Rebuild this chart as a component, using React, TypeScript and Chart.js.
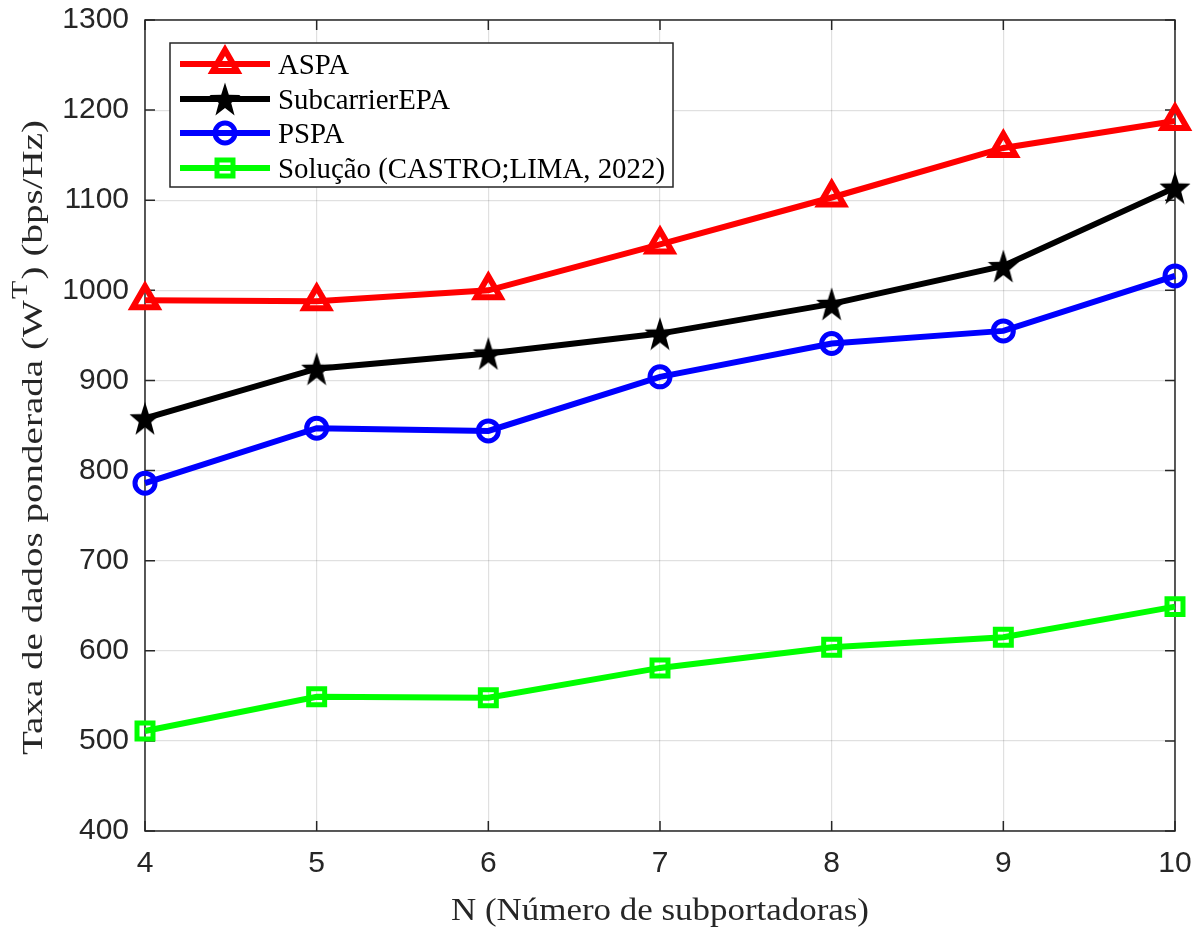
import React, { useEffect, useRef } from "react";
import { Chart, registerables } from "chart.js";

Chart.register(...registerables);

const nValues = [4, 5, 6, 7, 8, 9, 10];
const aspa = [989, 988, 1000, 1051, 1103, 1158, 1188];
const subcarrierEPA = [858, 913, 930, 952, 985, 1027, 1114];
const pspa = [786, 847, 844, 904, 941, 955, 1016];
const solucao = [511, 549, 548, 581, 604, 615, 649];
const yTicks = [400, 500, 600, 700, 800, 900, 1000, 1100, 1200, 1300];
const seriesLabels = ["ASPA", "SubcarrierEPA", "PSPA", "Solução (CASTRO;LIMA, 2022)"];
const xTitle = "N (Número de subportadoras)";

const SANS = "'Liberation Sans', Arial, Helvetica, sans-serif";
const SERIF = "'Liberation Serif', 'Times New Roman', serif";

function makeStar(w: number, h: number, color: string): HTMLCanvasElement {
  const c = document.createElement("canvas");
  c.width = w;
  c.height = h;
  const ctx = c.getContext("2d")!;
  const R = 1, r = 0.4;
  const sx = (w / 2 - 0.5) / 0.951, sy = (h - 1) / 1.809;
  const cx = w / 2, cy = 0.5 + sy;
  ctx.beginPath();
  for (let i = 0; i < 10; i++) {
    const rad = i % 2 === 0 ? R : r;
    const a = -Math.PI / 2 + (i * Math.PI) / 5;
    const px = cx + rad * Math.cos(a) * sx, py = cy + rad * Math.sin(a) * sy;
    if (i === 0) ctx.moveTo(px, py); else ctx.lineTo(px, py);
  }
  ctx.closePath();
  ctx.fillStyle = color;
  ctx.fill();
  return c;
}

function drawMarker(ctx: CanvasRenderingContext2D, style: any, x: number, y: number, r: number) {
  if (typeof style !== "string") {
    ctx.drawImage(style, x - style.width / 2, y - style.height / 2);
    return;
  }
  ctx.beginPath();
  if (style === "triangle") {
    let rad = 0;
    ctx.moveTo(x + Math.sin(rad) * r, y - Math.cos(rad) * r);
    rad += (2 * Math.PI) / 3;
    ctx.lineTo(x + Math.sin(rad) * r, y - Math.cos(rad) * r);
    rad += (2 * Math.PI) / 3;
    ctx.lineTo(x + Math.sin(rad) * r, y - Math.cos(rad) * r);
    ctx.closePath();
  } else if (style === "circle") {
    ctx.arc(x, y, r, 0, Math.PI * 2);
  } else if (style === "rect") {
    const s = Math.SQRT1_2 * r;
    ctx.rect(x - s, y - s, 2 * s, 2 * s);
  }
  ctx.stroke();
}

function fitText(ctx: CanvasRenderingContext2D, text: string, x: number, y: number, font: string, width: number, align: "left" | "center") {
  ctx.save();
  ctx.font = font;
  const w = ctx.measureText(text).width;
  const s = width / w;
  ctx.translate(x, y);
  ctx.scale(s, 1);
  ctx.textAlign = align;
  ctx.textBaseline = "alphabetic";
  ctx.fillText(text, 0, 0);
  ctx.restore();
}

export default function App() {
  const ref = useRef<HTMLCanvasElement>(null);
  useEffect(() => {
    const star = makeStar(32, 34, "#000000");
    const toPts = (arr: number[]) => arr.map((v, i) => ({ x: nValues[i], y: v }));

    const markerStyles = [
      { color: "#ff0000", style: "triangle" as any, radius: 14, bw: 6 },
      { color: "#000000", style: star as any, radius: 16, bw: 1 },
      { color: "#0000ff", style: "circle" as any, radius: 10, bw: 5 },
      { color: "#00ff00", style: "rect" as any, radius: 11.3, bw: 5 },
    ];

    const framePlugin = {
      id: "frame",
      beforeDatasetsDraw(chart: any) {
        const { ctx, chartArea: a, scales } = chart;
        ctx.save();
        ctx.strokeStyle = "#262626";
        ctx.lineWidth = 1.5;
        ctx.strokeRect(a.left, a.top, a.right - a.left, a.bottom - a.top);
        const tl = 10;
        ctx.beginPath();
        yTicks.forEach((t) => {
          const y = scales.y.getPixelForValue(t);
          ctx.moveTo(a.left, y); ctx.lineTo(a.left + tl, y);
          ctx.moveTo(a.right, y); ctx.lineTo(a.right - tl, y);
        });
        nValues.forEach((t) => {
          const x = scales.x.getPixelForValue(t);
          ctx.moveTo(x, a.bottom); ctx.lineTo(x, a.bottom - tl);
          ctx.moveTo(x, a.top); ctx.lineTo(x, a.top + tl);
        });
        ctx.stroke();
        ctx.restore();
      },
      afterDraw(chart: any) {
        const { ctx, chartArea: a } = chart;
        ctx.save();
        ctx.fillStyle = "#262626";
        fitText(ctx, xTitle, (a.left + a.right) / 2, 920, `31px ${SERIF}`, 418, "center");

        const p1 = "Taxa de dados ponderada (W";
        const sup = "T";
        const p2 = ") (bps/Hz)";
        const mainFont = `30px ${SERIF}`;
        const supFont = `23px ${SERIF}`;
        ctx.font = mainFont;
        const w1 = ctx.measureText(p1).width;
        const w3 = ctx.measureText(p2).width;
        ctx.font = supFont;
        const w2 = ctx.measureText(sup).width + 2;
        const total = w1 + w2 + w3;
        const s = 635 / total;
        ctx.translate(42, 437.5);
        ctx.rotate(-Math.PI / 2);
        ctx.scale(s, 1);
        ctx.textAlign = "left";
        ctx.textBaseline = "alphabetic";
        let x = -total / 2;
        ctx.font = mainFont;
        ctx.fillText(p1, x, 0);
        x += w1;
        ctx.font = supFont;
        ctx.fillText(sup, x + 1, -15);
        x += w2;
        ctx.font = mainFont;
        ctx.fillText(p2, x, 0);
        ctx.restore();

        ctx.save();
        const lx = 170, ly = 43, lw = 503, lh = 144;
        ctx.fillStyle = "#ffffff";
        ctx.fillRect(lx, ly, lw, lh);
        ctx.strokeStyle = "#262626";
        ctx.lineWidth = 1.5;
        ctx.strokeRect(lx, ly, lw, lh);
        const rows = [64, 99, 133, 168];
        ctx.font = `29px ${SERIF}`;
        const refW = ctx.measureText(seriesLabels[3]).width;
        const sc = 387 / refW;
        chart.data.datasets.forEach((ds: any, i: number) => {
          const y = rows[i];
          ctx.strokeStyle = ds.borderColor;
          ctx.lineWidth = 6;
          ctx.beginPath();
          ctx.moveTo(180, y);
          ctx.lineTo(270, y);
          ctx.stroke();
          const m = markerStyles[i];
          ctx.lineWidth = m.bw;
          ctx.strokeStyle = m.color;
          drawMarker(ctx, m.style, 225, y, m.radius);
          ctx.fillStyle = "#000000";
          ctx.font = `29px ${SERIF}`;
          const w = ctx.measureText(seriesLabels[i]).width * sc;
          fitText(ctx, seriesLabels[i], 278, y + 10, `29px ${SERIF}`, w, "left");
        });
        ctx.restore();
      },
    };

    const datasets = [aspa, subcarrierEPA, pspa, solucao].map((arr, i) => ({
      label: seriesLabels[i],
      data: toPts(arr),
      borderColor: markerStyles[i].color,
      backgroundColor: markerStyles[i].color,
      borderWidth: 6,
      pointStyle: markerStyles[i].style,
      pointRadius: markerStyles[i].radius,
      pointBorderWidth: markerStyles[i].bw,
      pointBorderColor: markerStyles[i].color,
      pointBackgroundColor: "rgba(0,0,0,0)",
      tension: 0,
      clip: false as any,
    }));

    const chart = new Chart(ref.current!, {
      type: "line",
      data: { datasets },
      options: {
        animation: false,
        responsive: false,
        maintainAspectRatio: false,
        layout: { padding: { left: 0, right: 27, top: 18, bottom: 0 } },
        plugins: { legend: { display: false }, tooltip: { enabled: false } },
        scales: {
          x: {
            type: "linear",
            min: 4,
            max: 10,
            afterFit: (s: any) => { s.height = 98; s.paddingLeft = 0; s.paddingRight = 0; },
            afterBuildTicks: (s: any) => { s.ticks = nValues.map((v) => ({ value: v })); },
            ticks: { color: "#262626", font: { family: SANS, size: 30 }, padding: 15, maxRotation: 0, callback: (v: any) => String(v) },
            grid: { color: "rgba(0,0,0,0.12)", lineWidth: 1.2, drawTicks: false },
            border: { display: false },
          },
          y: {
            type: "linear",
            min: 400,
            max: 1300,
            afterFit: (s: any) => { s.width = 145; s.paddingTop = 0; s.paddingBottom = 0; },
            afterBuildTicks: (s: any) => { s.ticks = yTicks.map((v) => ({ value: v })); },
            ticks: { color: "#262626", font: { family: SANS, size: 30 }, padding: 16, callback: (v: any) => String(v) },
            grid: { color: "rgba(0,0,0,0.12)", lineWidth: 1.2, drawTicks: false },
            border: { display: false },
          },
        },
      },
      plugins: [framePlugin],
    });
    return () => chart.destroy();
  }, []);

  return (
    <div style={{ position: "fixed", left: 0, top: 0, width: 1202, height: 929, background: "#fff" }}>
      <canvas ref={ref} width={1202} height={929} style={{ width: 1202, height: 929 }} />
    </div>
  );
}
